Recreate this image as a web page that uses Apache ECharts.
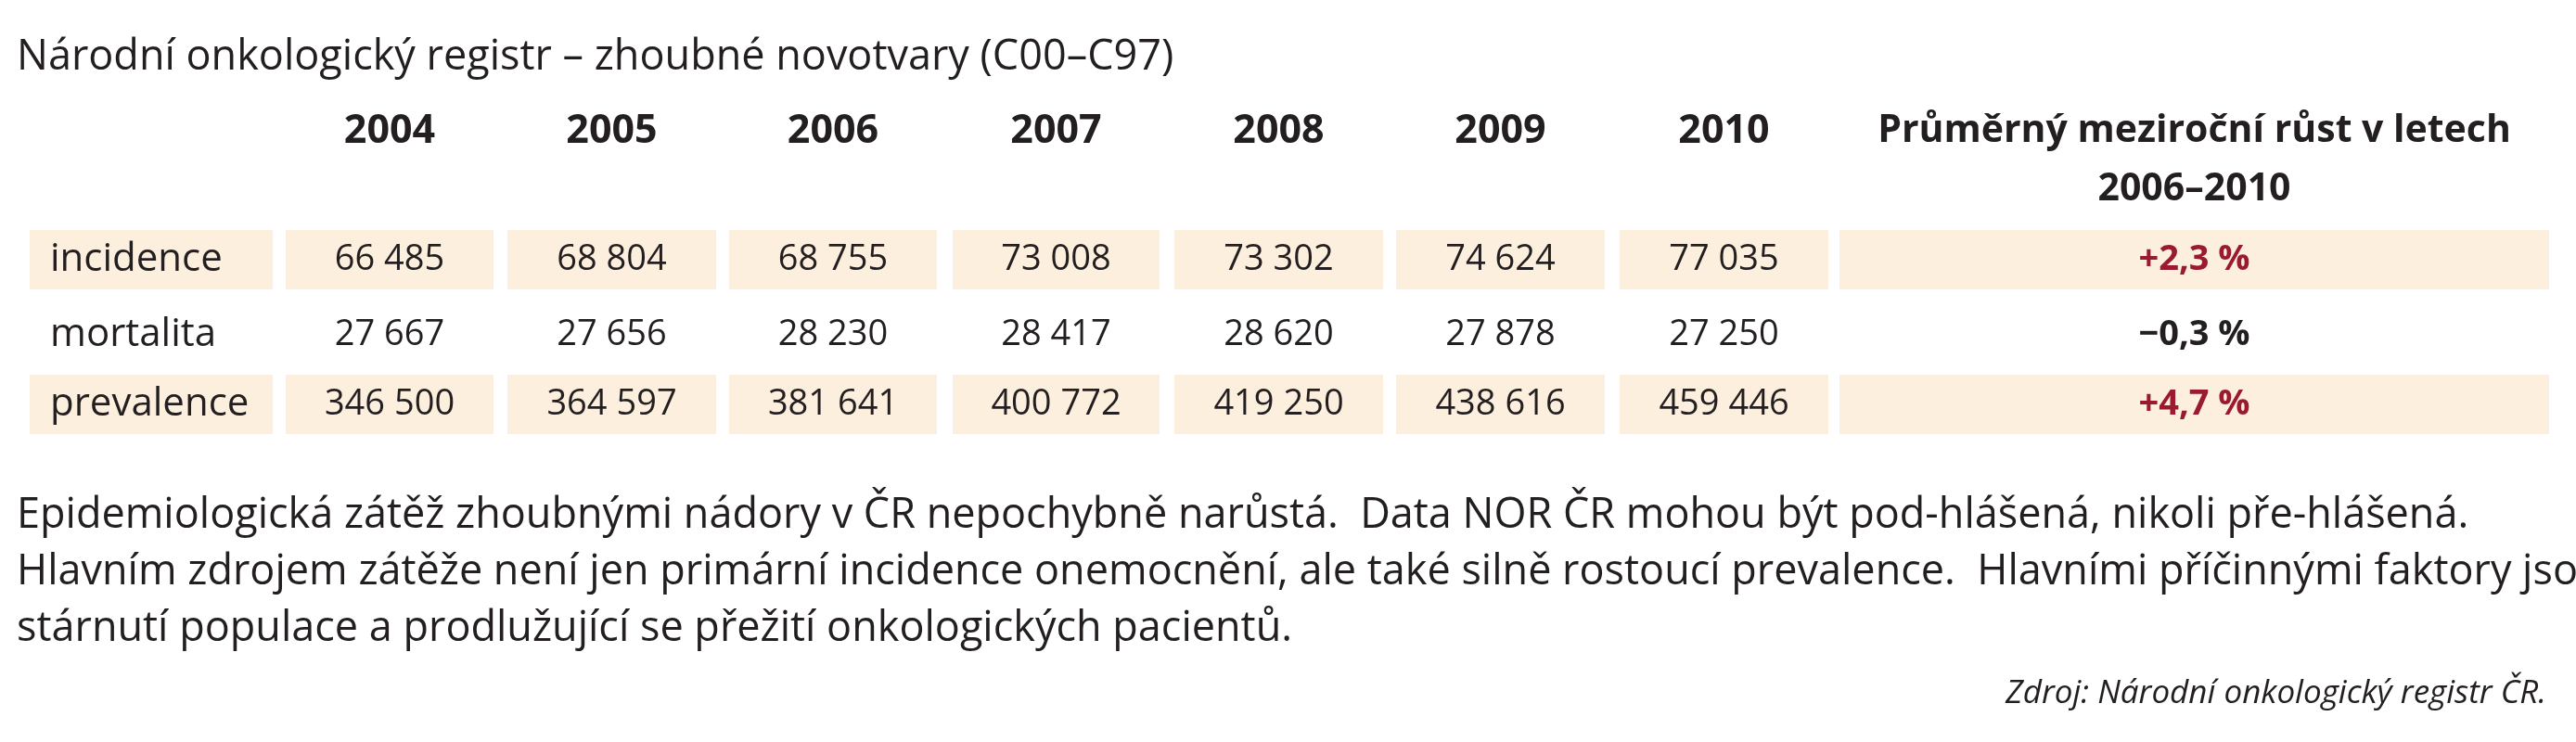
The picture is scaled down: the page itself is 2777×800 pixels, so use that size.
<!DOCTYPE html>
<html><head><meta charset="utf-8">
<script src="https://cdn.jsdelivr.net/npm/echarts@6/dist/echarts.min.js"></script>
<style>html,body{margin:0;padding:0;background:#fff}#c{width:2777px;height:800px}</style>
</head><body><div id="c"></div>
<script>
const titleText = 'Národní onkologický registr – zhoubné novotvary (C00–C97)';
const years = ['2004','2005','2006','2007','2008','2009','2010'];
const lastHeader = ['Průměrný meziroční růst v letech','2006–2010'];
const rowNames = ['incidence','mortalita','prevalence'];
const incidence = [66485, 68804, 68755, 73008, 73302, 74624, 77035];
const mortalita = [27667, 27656, 28230, 28417, 28620, 27878, 27250];
const prevalence = [346500, 364597, 381641, 400772, 419250, 438616, 459446];
const growth = ['+2,3 %', '−0,3 %', '+4,7 %'];
const paragraph = [
 'Epidemiologická zátěž zhoubnými nádory v ČR nepochybně narůstá.  Data NOR ČR mohou být pod-hlášená, nikoli pře-hlášená.',
 'Hlavním zdrojem zátěže není jen primární incidence onemocnění, ale také silně rostoucí prevalence.  Hlavními příčinnými faktory jsou',
 'stárnutí populace a prodlužující se přežití onkologických pacientů.'
];
const sourceText = 'Zdroj: Národní onkologický registr ČR.';

// layout (pixel space of the grid)
const colEdges = [[32,294],[308,532],[547,772],[786,1010],[1027,1250],[1266,1491],[1505,1730],[1746,1971],[1983,2748]];
const rowY = [280, 361, 436];
const boxH = 64;
const FONT = '"Open Sans", sans-serif';
const fmt = v => String(v).replace(/\B(?=(\d{3})+(?!\d))/g, ' ');
const tables = [incidence, mortalita, prevalence];

const cells = [];
rowNames.forEach((r, i) => {
  cells.push({value:[0, i], text:r, kind:'label'});
  tables[i].forEach((v, j) => cells.push({value:[j+1, i], text:fmt(v), kind:'num'}));
  cells.push({value:[8, i], text:growth[i], kind: growth[i].startsWith('+') ? 'red' : 'bold'});
});
const headers = years.map((y, j) => ({value:[j+1, -1], text:y, size:43}));
headers.push({value:[8,-1], text:lastHeader.join('\n'), size:41});

const chart = echarts.init(document.getElementById('c'), null, {renderer:'canvas'});
chart.setOption({
  animation:false,
  grid:{left:0,right:0,top:0,bottom:0},
  xAxis:{type:'value',min:0,max:2777,show:false},
  yAxis:{type:'value',min:0,max:800,inverse:true,show:false},
  graphic:[
    {type:'text',x:18,y:62,style:{text:titleText,font:'45px '+FONT,fill:'#231f20',verticalAlign:'middle'}},
    ...paragraph.map((p,k)=>({type:'text',x:18,y:556+k*61,style:{text:p,font:'45px '+FONT,fill:'#231f20',verticalAlign:'middle'}})),
    {type:'text',x:2745,y:748,style:{text:sourceText,font:'italic 35px '+FONT,fill:'#231f20',align:'right',verticalAlign:'middle'}}
  ],
  series:[
    {type:'custom', data:cells, renderItem:(params, api)=>{
      const d = cells[params.dataIndex];
      const c = d.value[0], r = d.value[1];
      const [x0, x1] = colEdges[c];
      const p0 = api.coord([x0, rowY[r]]), p1 = api.coord([x1, rowY[r]]);
      const children = [];
      if (r !== 1) children.push({type:'rect',shape:{x:p0[0],y:p0[1]-boxH/2,width:p1[0]-p0[0],height:boxH},style:{fill:'#fdefdd'}});
      const isLabel = d.kind==='label';
      const bold = d.kind==='red' || d.kind==='bold';
      children.push({type:'text',style:{
        text:d.text, x: isLabel ? p0[0]+22 : (p0[0]+p1[0])/2, y:p0[1],
        align: isLabel?'left':'center', verticalAlign:'middle',
        font:(bold?'bold ':'')+(isLabel?'42px ':'38px ')+FONT, fill: d.kind==='red'?'#9a1b2f':'#231f20'}});
      return {type:'group',children};
    }},
    {type:'custom', data:headers, renderItem:(params, api)=>{
      const d = headers[params.dataIndex];
      const [x0, x1] = colEdges[d.value[0]];
      const p = api.coord([(x0+x1)/2, 110]);
      return {type:'text',style:{text:d.text,x:p[0],y:p[1],align:'center',verticalAlign:'top',
        font:'bold '+d.size+'px '+FONT,lineHeight:63,fill:'#231f20'}};
    }}
  ]
});
</script></body></html>
